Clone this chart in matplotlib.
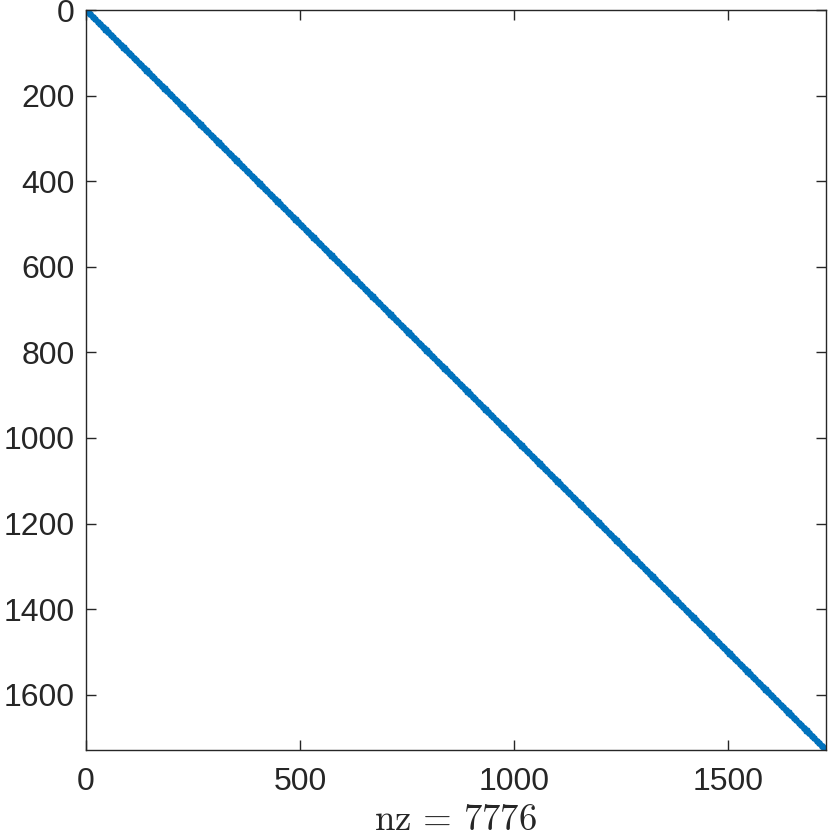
import numpy as np
import matplotlib
matplotlib.use("Agg")
import matplotlib.pyplot as plt

# Sparsity pattern data: 1728x1728 block-diagonal matrix of 6x6 saddle-point blocks (nz = 7776)
n_rows = 1728
block_mask = [
    [1, 1, 1, 1, 1, 1],
    [1, 1, 1, 1, 1, 1],
    [1, 1, 1, 1, 1, 1],
    [1, 1, 1, 0, 0, 0],
    [1, 1, 1, 0, 0, 0],
    [1, 1, 1, 0, 0, 0],
]
x_ticks = [0, 500, 1000, 1500]
y_ticks = [0, 200, 400, 600, 800, 1000, 1200, 1400, 1600]
xlabel_text = r"$\mathrm{nz}\,=\,7776$"

# build the sparsity pattern
B = np.array(block_mask, dtype=bool)
nb = n_rows // B.shape[0]
M = np.kron(np.eye(nb, dtype=bool), B)
rows, cols = np.nonzero(M)

plt.rcParams['font.family'] = ['Liberation Sans', 'DejaVu Sans']
plt.rcParams['mathtext.fontset'] = 'cm'

fig = plt.figure(figsize=(8.3, 8.4), dpi=100)
ax = fig.add_axes([86 / 830, (840 - 750) / 840, 740 / 830, 740 / 840])

ax.plot(cols + 1, rows + 1, linestyle='none', marker='o', markersize=2.6,
        markeredgewidth=0, color='#0072BD')

ax.set_xlim(0, n_rows + 1)
ax.set_ylim(n_rows + 1, 0)
ax.set_xticks(x_ticks)
ax.set_yticks(y_ticks)
ax.tick_params(direction='in', length=7, width=1, colors='#262626',
               labelsize=23, top=True, right=True)
ax.tick_params(axis='x', pad=12)
ax.tick_params(axis='y', pad=8)
for s in ax.spines.values():
    s.set_color('#262626')
    s.set_linewidth(1)

fig.text(456 / 830, 2 / 840, xlabel_text, fontsize=26.5, color='#262626',
         ha='center', va='bottom')

fig.savefig("out.png", dpi=100)
